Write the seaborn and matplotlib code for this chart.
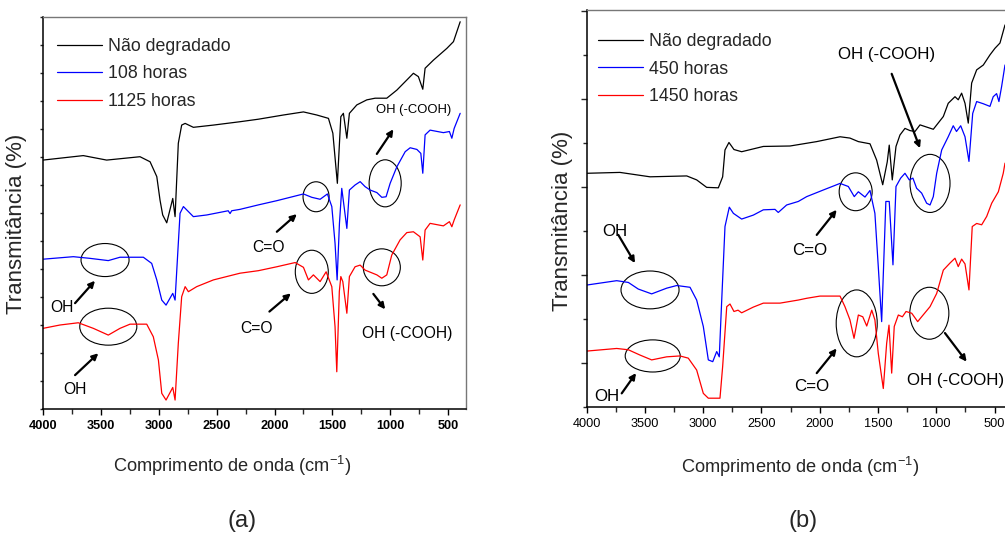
import matplotlib
matplotlib.use("Agg")
import numpy as np
import pandas as pd
import matplotlib.pyplot as plt
from matplotlib import font_manager
from matplotlib.patches import Ellipse
from matplotlib.ticker import MultipleLocator, FixedLocator
import seaborn as sns

# ---------------- FTIR spectra, panel (a) ----------------
labels_a = ["Não degradado", "108 horas", "1125 horas"]

wn_a_ref = [4000, 3652, 3450, 3162, 3075, 3017, 2989, 2966, 2931, 2879, 2859, 2831, 2802,
            2772, 2701, 2528, 2298, 2139, 1923, 1750, 1635, 1534, 1496, 1457, 1427, 1405,
            1375, 1353, 1289, 1203, 1131, 1030, 943, 857, 800, 757, 719, 699, 627, 511,
            454, 396]
t_a_ref = [8.89, 9.05, 8.89, 9.01, 8.83, 8.30, 7.46, 6.93, 6.65, 7.52, 6.87, 9.49, 10.14,
           10.20, 10.06, 10.14, 10.26, 10.35, 10.50, 10.61, 10.50, 10.38, 9.85, 8.06, 10.44,
           10.56, 9.67, 10.56, 10.86, 11.04, 11.10, 11.10, 11.39, 11.75, 11.99, 11.87,
           11.42, 12.17, 12.46, 12.88, 13.12, 13.83]

wn_a_108 = [4000, 3738, 3594, 3436, 3335, 3133, 3061, 3017, 2974, 2937, 2879, 2859, 2831,
            2816, 2787, 2744, 2701, 2585, 2400, 2384, 2370, 2298, 2139, 1980, 1750, 1678,
            1606, 1543, 1505, 1477, 1459, 1439, 1419, 1375, 1353, 1304, 1260, 1217, 1174,
            1116, 1073, 1036, 1001, 943, 871, 828, 770, 736, 719, 699, 656, 541, 489, 468,
            448, 396]
t_a_108 = [5.35, 5.44, 5.38, 5.30, 5.42, 5.42, 5.20, 4.61, 3.89, 3.71, 4.13, 3.89, 5.92,
           6.99, 7.23, 7.05, 6.87, 6.93, 7.08, 6.98, 7.08, 7.13, 7.29, 7.44, 7.68, 7.56,
           7.49, 7.68, 7.23, 5.92, 4.61, 6.63, 7.88, 6.45, 7.82, 8.00, 8.12, 7.94, 7.82,
           7.73, 7.56, 7.58, 8.06, 8.65, 9.19, 9.33, 9.27, 9.13, 8.42, 9.79, 9.96, 9.87,
           9.91, 9.67, 10.02, 10.56]

wn_a_1125 = [4000, 3853, 3695, 3565, 3436, 3335, 3248, 3104, 3047, 3003, 2974, 2937, 2879,
             2859, 2831, 2802, 2772, 2744, 2672, 2528, 2298, 2139, 1980, 1822, 1750, 1707,
             1664, 1606, 1554, 1505, 1477, 1462, 1440, 1427, 1410, 1375, 1353, 1304, 1260,
             1217, 1116, 1073, 1030, 987, 915, 857, 800, 742, 719, 699, 656, 541, 489, 468,
             448, 396]
t_a_1125 = [2.88, 3.00, 3.08, 2.88, 2.64, 2.88, 3.03, 3.03, 2.58, 1.75, 0.56, 0.32, 0.77,
            0.32, 2.35, 4.01, 4.37, 4.19, 4.37, 4.61, 4.85, 4.94, 5.08, 5.23, 5.06, 4.61,
            4.79, 4.55, 4.90, 4.37, 2.94, 1.33, 4.20, 4.73, 4.55, 3.42, 4.73, 5.08, 5.14,
            4.96, 4.79, 4.67, 4.79, 5.50, 6.04, 6.30, 6.33, 6.15, 5.32, 6.39, 6.63, 6.54,
            6.69, 6.51, 6.75, 7.29]

# ---------------- FTIR spectra, panel (b) ----------------
labels_b = ["Não degradado", "450 horas", "1450 horas"]

wn_b_ref = [4000, 3713, 3455, 3140, 3055, 2969, 2869, 2832, 2812, 2778, 2735, 2669, 2483,
            2254, 2025, 1825, 1740, 1668, 1568, 1511, 1459, 1420, 1403, 1377, 1345, 1311,
            1268, 1225, 1182, 1139, 1025, 939, 897, 839, 811, 782, 753, 725, 696, 653, 596,
            539, 496, 453, 410]
t_b_ref = [5.31, 5.33, 5.23, 5.25, 5.16, 4.99, 4.98, 5.23, 5.84, 6.01, 5.85, 5.80, 5.92,
           5.93, 6.03, 6.14, 6.11, 6.03, 5.98, 5.61, 5.05, 5.57, 5.95, 5.16, 5.92, 6.18,
           6.33, 6.28, 6.26, 6.41, 6.31, 6.60, 6.90, 7.05, 6.98, 7.13, 6.90, 6.45, 7.36,
           7.66, 7.77, 8.00, 8.15, 8.27, 8.68]

wn_b_450 = [4000, 3741, 3641, 3556, 3441, 3312, 3226, 3112, 3055, 2998, 2955, 2917, 2883,
            2861, 2840, 2812, 2775, 2740, 2669, 2569, 2483, 2383, 2355, 2283, 2183, 2111,
            1969, 1825, 1754, 1703, 1668, 1611, 1568, 1526, 1497, 1468, 1432, 1403, 1371,
            1345, 1305, 1268, 1231, 1200, 1168, 1125, 1082, 1053, 1025, 996, 953, 897, 854,
            826, 790, 753, 719, 687, 653, 596, 539, 511, 482, 462, 439, 410]
t_b_450 = [2.77, 2.87, 2.83, 2.68, 2.57, 2.70, 2.76, 2.72, 2.43, 1.83, 1.07, 1.03, 1.26,
           1.14, 2.43, 4.10, 4.54, 4.40, 4.27, 4.36, 4.48, 4.49, 4.42, 4.59, 4.67, 4.78,
           4.93, 5.08, 5.01, 4.78, 4.89, 4.77, 4.92, 4.40, 3.19, 1.94, 4.67, 4.67, 3.23,
           5.01, 5.20, 5.31, 5.16, 5.20, 4.97, 4.86, 4.63, 4.59, 4.78, 5.31, 5.84, 6.14,
           6.39, 6.26, 6.39, 6.14, 5.58, 6.67, 6.94, 6.89, 6.83, 7.05, 7.12, 6.94, 7.28,
           7.77]

wn_b_1450 = [4000, 3741, 3641, 3541, 3441, 3312, 3198, 3127, 3055, 2998, 2955, 2855, 2832,
             2797, 2769, 2735, 2700, 2669, 2569, 2483, 2340, 2183, 2111, 1997, 1825, 1783,
             1740, 1705, 1668, 1630, 1596, 1553, 1526, 1497, 1454, 1425, 1405, 1382, 1360,
             1325, 1290, 1259, 1210, 1159, 1125, 1053, 996, 939, 882, 839, 811, 782, 753,
             719, 691, 653, 610, 567, 524, 467, 425, 410]
t_b_1450 = [1.27, 1.33, 1.30, 1.18, 1.07, 1.14, 1.16, 1.11, 0.84, 0.31, 0.20, 0.20, 0.92,
            2.28, 2.34, 2.17, 2.20, 2.14, 2.27, 2.36, 2.36, 2.43, 2.47, 2.52, 2.52, 2.28,
            1.98, 1.56, 2.09, 2.05, 1.84, 2.20, 1.98, 1.22, 0.42, 1.45, 1.86, 0.77, 1.83,
            2.09, 2.05, 2.17, 2.13, 1.94, 2.05, 2.28, 2.58, 3.11, 3.27, 3.38, 3.19, 3.36,
            3.25, 2.66, 4.10, 4.17, 4.14, 4.33, 4.63, 4.89, 5.31, 5.54]

x_ticks = [4000, 3500, 3000, 2500, 2000, 1500, 1000, 500]
x_tick_labels = ["4000", "3500", "3000", "2500", "2000", "1500", "1000", "500"]
colors = ["#000000", "#0000ff", "#ff0000"]

# ---------------- style ----------------
sns.set_style("ticks")
available = {f.name for f in font_manager.fontManager.ttflist}
NARROW = "Liberation Sans Narrow" if "Liberation Sans Narrow" in available else "Liberation Sans"
k = 1.0 if NARROW == "Liberation Sans Narrow" else 0.85
WIDE = "Liberation Sans"
plt.rcParams["font.family"] = [NARROW, "DejaVu Sans"]
plt.rcParams["mathtext.fontset"] = "custom"
plt.rcParams["mathtext.rm"] = NARROW
plt.rcParams["mathtext.it"] = NARROW
plt.rcParams["mathtext.bf"] = NARROW


def long_frame(series, labels):
    parts = [pd.DataFrame({"onda": w, "T": t, "amostra": lab})
             for (w, t), lab in zip(series, labels)]
    return pd.concat(parts, ignore_index=True)


def style_axes(ax, xmax_right, ytop, tick_bold, y_major, y_minor, ylen_major, ylen_minor):
    ax.set_xlim(4000, xmax_right)
    ax.set_ylim(0, ytop)
    for side in ("left", "bottom"):
        ax.spines[side].set_color("black")
        ax.spines[side].set_linewidth(1.1)
    for side in ("top", "right"):
        ax.spines[side].set_visible(True)
        ax.spines[side].set_color("#777777")
        ax.spines[side].set_linewidth(1.0)
    ax.xaxis.set_major_locator(FixedLocator(x_ticks))
    ax.set_xticklabels(x_tick_labels, fontsize=10.8 * k,
                       fontweight="bold" if tick_bold else "normal")
    ax.xaxis.set_minor_locator(MultipleLocator(250))
    ax.yaxis.set_major_locator(FixedLocator(y_major))
    ax.yaxis.set_minor_locator(FixedLocator(y_minor))
    ax.tick_params(axis="x", which="major", direction="out", length=4, width=1, pad=4,
                   colors="black", top=False)
    ax.tick_params(axis="x", which="minor", direction="out", length=3.5, width=1, top=False)
    ax.tick_params(axis="y", which="major", direction="out", length=ylen_major, width=1,
                   labelleft=False, right=False)
    ax.tick_params(axis="y", which="minor", direction="out", length=ylen_minor, width=1,
                   right=False)


def mark(ax, text, text_xy, tail, head, center, size, fs, ha="center"):
    ax.text(text_xy[0], text_xy[1], text, fontsize=fs, ha=ha, va="center", color="black")
    ax.annotate("", xy=head, xytext=tail,
                arrowprops=dict(arrowstyle="-|>", color="black", lw=1.6,
                                mutation_scale=9, shrinkA=0, shrinkB=0))
    ax.add_patch(Ellipse(center, size[0], size[1], fill=False, ec="black", lw=0.8))


fig = plt.figure(figsize=(10.05, 5.37), dpi=100)
W, H = 1005.0, 537.0
ax_a = fig.add_axes([43 / W, 1 - 409 / H, 422.5 / W, 392 / H])
ax_b = fig.add_axes([586.5 / W, 1 - 407 / H, (3600 / 3500 * 408) / W, 397 / H])

df_a = long_frame([(wn_a_ref, t_a_ref), (wn_a_108, t_a_108), (wn_a_1125, t_a_1125)], labels_a)
df_b = long_frame([(wn_b_ref, t_b_ref), (wn_b_450, t_b_450), (wn_b_1450, t_b_1450)], labels_b)

for ax, df, labels in ((ax_a, df_a, labels_a), (ax_b, df_b, labels_b)):
    sns.lineplot(data=df, x="onda", y="T", hue="amostra", hue_order=labels,
                 palette=colors, estimator=None, sort=False, lw=0.9, ax=ax, legend=False)

style_axes(ax_a, 350, 14, True, list(range(0, 15)), [], 2.5, 2.5)
style_axes(ax_b, 400, 9.02, False, [1, 3, 5, 7, 9], [0, 2, 4, 6, 8], 4.5, 3)

for ax, labels, anchor in ((ax_a, labels_a, (0.033, 0.947)), (ax_b, labels_b, (0.027, 0.942))):
    ax.legend(handles=ax.lines[:3], labels=labels, loc="upper left", bbox_to_anchor=anchor,
              frameon=False, fontsize=15 * k, borderpad=0, borderaxespad=0,
              handlelength=2.55, handletextpad=0.34, labelspacing=0.6)
    ax.set_xlabel("Comprimento de onda (cm$^{-1}$)", fontsize=15.5 * k)
    ax.set_ylabel("Transmitância (%)", fontsize=16, family=WIDE)

ax_a.xaxis.set_label_coords(0.447, -0.115)
ax_b.xaxis.set_label_coords(0.509, -0.12)
ax_a.yaxis.set_label_coords(-0.038, 0.472)
ax_b.yaxis.set_label_coords(-0.031, 0.468)

# peak annotations, panel (a)
fa = 13.2 * k
mark(ax_a, "OH", (3836, 3.61), (3723, 3.78), (3551, 4.58), (3464, 5.32), (415, 1.18), fa)
mark(ax_a, "OH", (3723, 0.68), (3723, 1.21), (3522, 1.99), (3436, 2.94), (493, 1.32), fa)
mark(ax_a, "C=O", (2056, 5.75), (1980, 6.33), (1807, 6.96), (1641, 7.58), (225, 1.07), fa)
mark(ax_a, "C=O", (2153, 2.88), (2044, 3.48), (1859, 4.13), (1678, 4.90), (285, 1.54), fa)
mark(ax_a, "OH (-COOH)", (800, 10.68), (1116, 9.11), (973, 9.99), (1044, 8.06), (277, 1.68), 11 * k)
mark(ax_a, "OH (-COOH)", (857, 2.70), (1146, 4.11), (1044, 3.56), (1073, 5.06), (320, 1.32), fa)

# peak annotations, panel (b)
fb = 14.3 * k
mark(ax_b, "OH", (3756, 3.98), (3727, 3.91), (3584, 3.27), (3455, 2.66), (498, 0.86), fb)
mark(ax_b, "OH", (3827, 0.23), (3698, 0.31), (3575, 0.77), (3432, 1.16), (472, 0.73), fb)
mark(ax_b, "C=O", (2084, 3.55), (2025, 3.91), (1854, 4.48), (1691, 4.89), (283, 0.86), fb)
mark(ax_b, "C=O", (2068, 0.46), (2025, 0.77), (1854, 1.33), (1682, 1.90), (352, 1.52), fb)
mark(ax_b, "OH (-COOH)", (1425, 8.02), (1382, 7.57), (1139, 5.88), (1053, 5.08), (343, 1.32), fb)
mark(ax_b, "OH (-COOH)", (420, 0.61), (925, 1.68), (739, 1.03), (1059, 2.13), (335, 1.18), fb,
     ha="right")

fig.text(242 / W, 1 - 521 / H, "(a)", fontsize=17, family=WIDE, ha="center", va="center")
fig.text(803 / W, 1 - 521 / H, "(b)", fontsize=17, family=WIDE, ha="center", va="center")

fig.savefig("out.png", dpi=100)
